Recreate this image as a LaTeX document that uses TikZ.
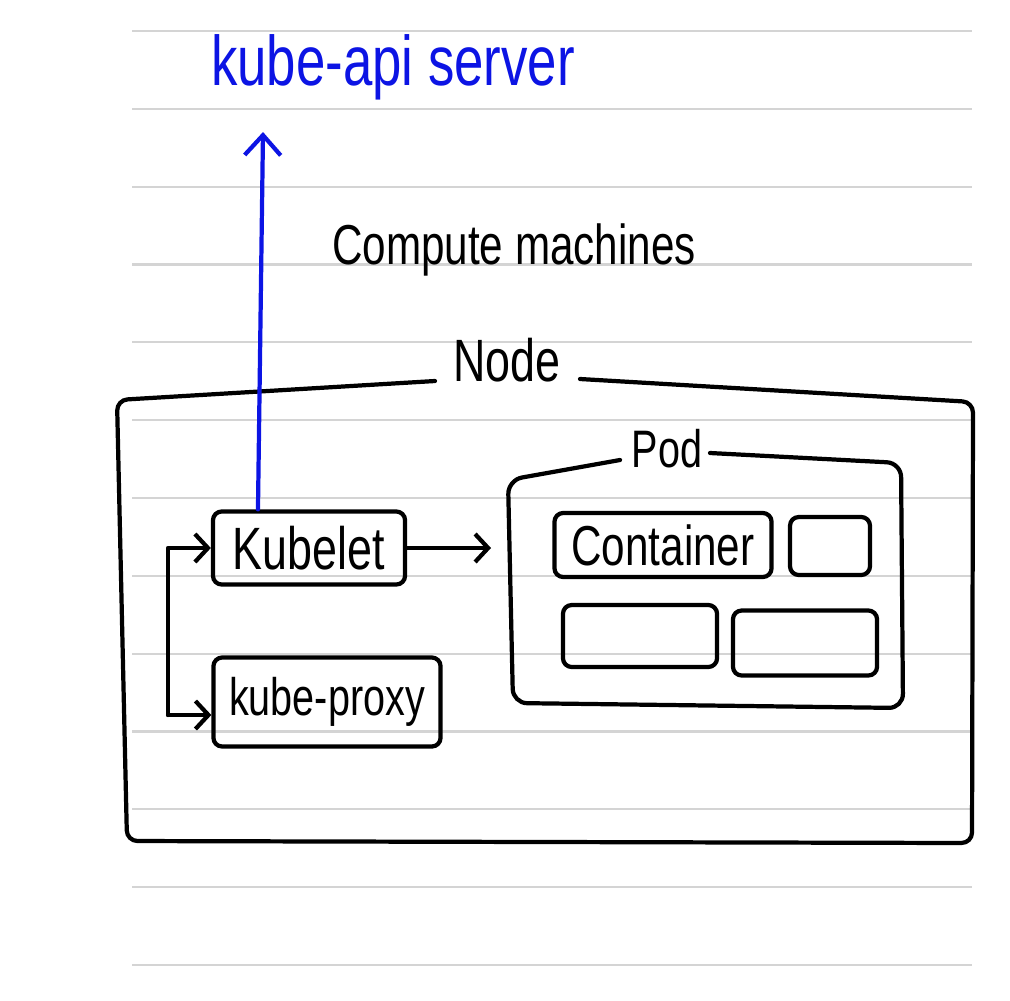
\documentclass[tikz,border=0pt]{standalone}
\usepackage{fontspec}
\setmainfont[FakeStretch=0.75]{Liberation Sans}
\usepackage{tikz}
\usetikzlibrary{arrows.meta}

\definecolor{pen}{RGB}{12,20,228}
\definecolor{paper}{RGB}{212,212,212}

\begin{document}
\begin{tikzpicture}[x=0.01cm,y=-0.01cm,
    ink/.style={line width=1.2pt, line cap=round, line join=round},
    box/.style={ink, draw, rounded corners=2.5pt, inner sep=0pt},
    hand/.style={font=\fontsize{#1}{#1}\selectfont},
    arr/.style={ink, -{Straight Barb[length=1.3mm,width=2.8mm]}}]
    \useasboundingbox (0,0) rectangle (1010,1000);
    \foreach \i in {0,...,12}
      \draw[paper, line width=0.6pt] (132,31+77.83*\i) -- (972,31+77.83*\i);
    % titles
    \node[hand=20, text=pen] (api) at (393,67) {kube-api server};
    \node[hand=16] (compute) at (514,250) {Compute machines};
    \node[hand=17] (nodelbl) at (507,360) {Node};
    \node[hand=15] (podlbl) at (667,449) {Pod};
    % node frame
    \draw[ink, rounded corners=3pt] (435,381) -- (117,400) -- (127,841)
      -- (972,843) -- (973,402) -- (580,379);
    % pod frame
    \draw[ink, rounded corners=4pt] (620,460) -- (508,480) -- (513,703)
      -- (903,708) -- (901,463) -- (710,453);
    \coordinate (podwest) at (508,548);
    \coordinate (apitip) at (263,132);
    \coordinate (fork) at (168,715);
    % boxes
    \node[box, minimum width=1.92cm, minimum height=0.73cm, hand=17] (kubelet) at (309,548) {Kubelet};
    \node[box, minimum width=2.27cm, minimum height=0.89cm, hand=15] (proxy) at (327,702) {kube-proxy};
    \node[box, minimum width=2.17cm, minimum height=0.64cm, hand=16] (container) at (663,545) {Container};
    \node[box, minimum width=0.8cm, minimum height=0.58cm] (c2) at (830,546) {};
    \node[box, minimum width=1.54cm, minimum height=0.62cm] (c3) at (640,636) {};
    \node[box, minimum width=1.44cm, minimum height=0.65cm] (c4) at (805,643) {};
    % connectors
    \draw[ink, pen, -{Straight Barb[length=2mm,width=3.6mm]}] ([xshift=-5.1mm]kubelet.north) -- (apitip);
    \draw[arr] (kubelet.east) -- ([xshift=-1.7mm]podwest);
    \draw[arr] (fork) |- (kubelet.west);
    \draw[arr] (fork) -- (fork -| proxy.west);
\end{tikzpicture}
\end{document}
